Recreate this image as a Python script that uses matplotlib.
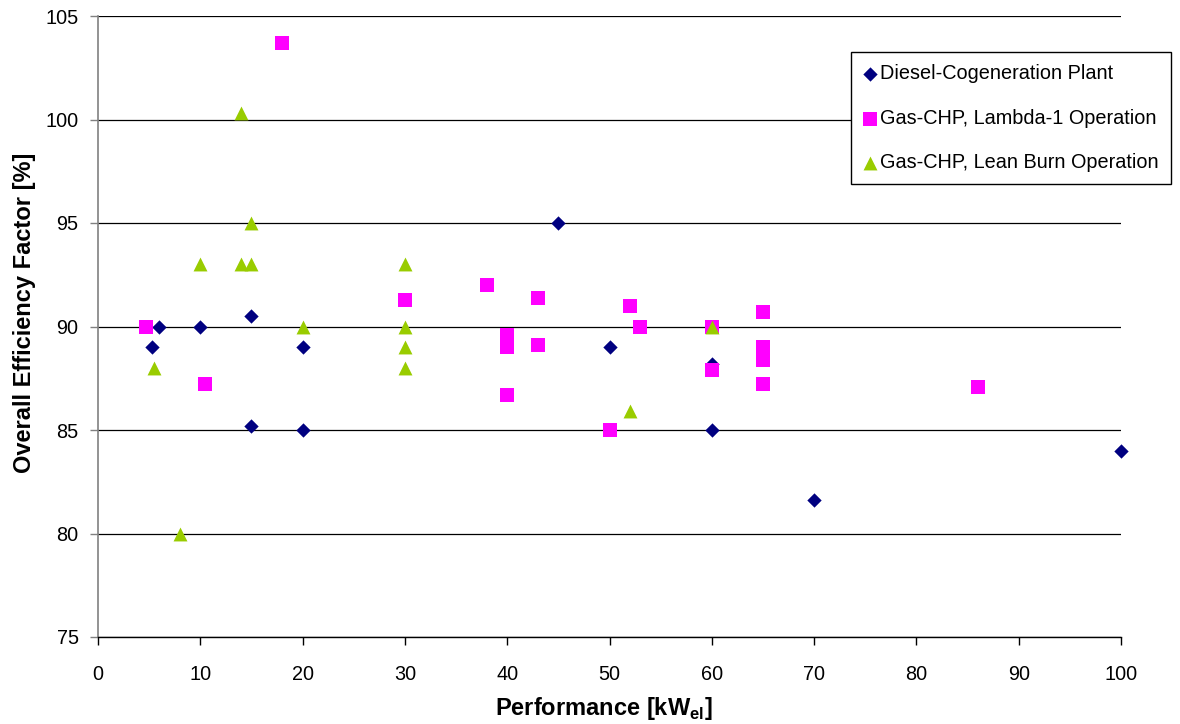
import matplotlib
matplotlib.use("Agg")
import matplotlib.pyplot as plt

plt.rcParams['font.family'] = ['Liberation Sans', 'DejaVu Sans']
plt.rcParams['mathtext.fontset'] = 'custom'
plt.rcParams['mathtext.rm'] = 'Liberation Sans'
plt.rcParams['mathtext.bf'] = 'Liberation Sans:bold'

# Electrical output [kWel] and overall efficiency [%] per plant type
diesel_x = [5.3, 6, 10, 15, 15, 20, 20, 45, 50, 60, 60, 70, 100]
diesel_y = [89, 90, 90, 90.5, 85.2, 89, 85, 95, 89, 88.2, 85, 81.6, 84]

lambda_x = [4.7, 10.5, 18, 30, 38, 40, 40, 40, 43, 43, 50, 52, 53, 60, 60,
            65, 65, 65, 65, 86]
lambda_y = [90, 87.2, 103.7, 91.3, 92, 89.6, 89.0, 86.7, 91.4, 89.1, 85, 91,
            90, 90, 87.9, 90.7, 89.0, 88.4, 87.2, 87.1]

lean_x = [5.5, 8, 10, 14, 14, 15, 15, 20, 30, 30, 30, 30, 52, 60]
lean_y = [88, 80, 93, 100.3, 93, 95, 93, 90, 93, 90, 89, 88, 85.9, 90]

series_labels = ["Diesel-Cogeneration Plant",
                 "Gas-CHP, Lambda-1 Operation",
                 "Gas-CHP, Lean Burn Operation"]

x_ticks = [0, 10, 20, 30, 40, 50, 60, 70, 80, 90, 100]
y_ticks = [75, 80, 85, 90, 95, 100, 105]

W, H = 1180, 724
fig = plt.figure(figsize=(W / 100, H / 100), dpi=100)
ax = fig.add_axes([98 / W, 1 - 637 / H, (1121 - 98) / W, (637 - 16) / H])

ax.set_xlim(0, 100)
ax.set_ylim(75, 105)
ax.set_xticks(x_ticks)
ax.set_yticks(y_ticks)

ax.grid(axis='y', color='black', linewidth=0.9, zorder=0)
ax.set_axisbelow(True)

for side in ('top', 'right'):
    ax.spines[side].set_visible(False)
ax.spines['left'].set_color('#808080')
ax.spines['left'].set_linewidth(1.2)
ax.spines['bottom'].set_color('black')
ax.spines['bottom'].set_linewidth(1.0)

ax.tick_params(axis='both', direction='out', length=6, width=1,
               labelsize=14.3, colors='black')
ax.tick_params(axis='x', pad=14)
ax.tick_params(axis='y', pad=8, color='#808080', labelcolor='black')

ax.scatter(diesel_x, diesel_y, marker='D', s=7.3 ** 2, color='#000080',
           linewidths=0, label=series_labels[0], zorder=3, clip_on=False)
ax.scatter(lambda_x, lambda_y, marker='s', s=9.6 ** 2, color='#FF00FF',
           linewidths=0, label=series_labels[1], zorder=4, clip_on=False)
ax.scatter(lean_x, lean_y, marker='^', s=10 ** 2, color='#99CC00',
           linewidths=0, label=series_labels[2], zorder=5, clip_on=False)

ax.set_xlabel(r'Performance [kW$_{\mathbf{el}}$]', fontsize=17,
              fontweight='bold')
ax.xaxis.set_label_coords((604 - 98) / 1023, (637 - 709) / 621)
ax.xaxis.label.set_va('center')

ax.set_ylabel('Overall Efficiency Factor [%]', fontsize=17, fontweight='bold')
ax.yaxis.set_label_coords((25 - 98) / 1023, (637 - 313) / 621)
ax.yaxis.label.set_va('center')

leg = fig.legend(loc='upper left', bbox_to_anchor=(851 / W, 1 - 52 / H),
                 bbox_transform=fig.transFigure, borderaxespad=0,
                 fontsize=14.3, frameon=True, fancybox=False, shadow=False,
                 handlelength=0.7, handletextpad=0.15, labelspacing=1.28,
                 borderpad=0.62, scatterpoints=1, markerscale=1.0)
leg.get_frame().set_edgecolor('black')
leg.get_frame().set_linewidth(1.0)
leg.get_frame().set_facecolor('white')
leg.get_frame().set_alpha(1)

fig.savefig('out.png', dpi=100, facecolor='white')
